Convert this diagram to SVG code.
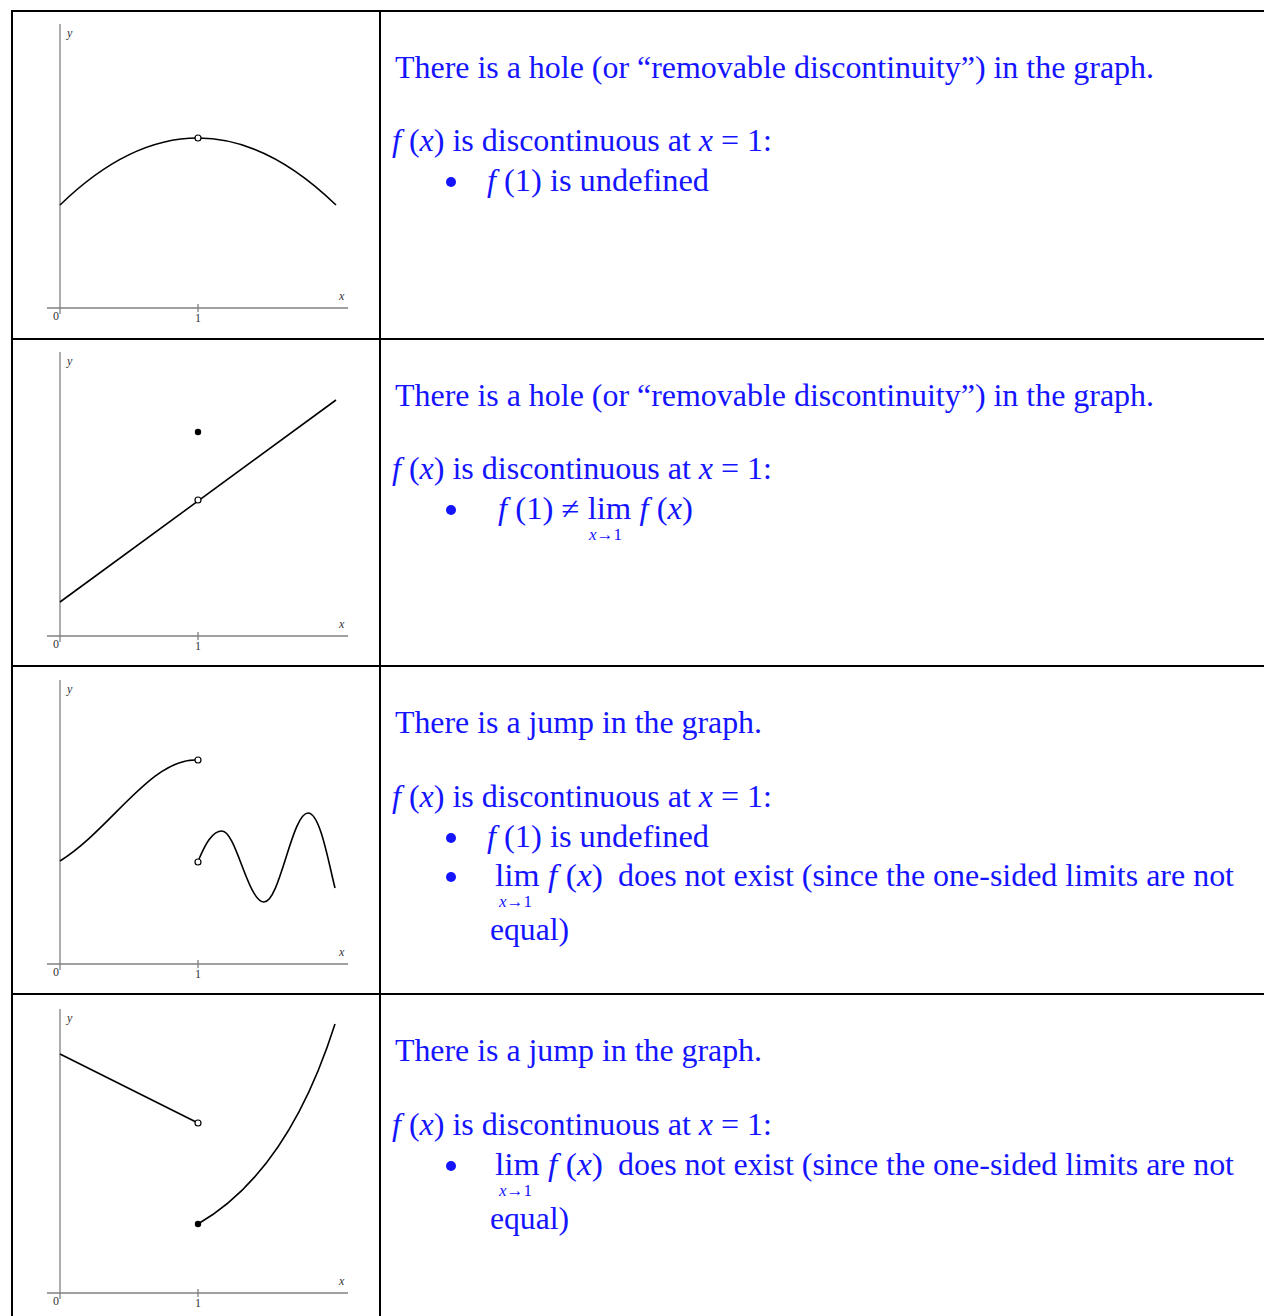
<svg xmlns="http://www.w3.org/2000/svg" width="1264" height="1316" viewBox="0 0 1264 1316">
<style>
.ax{stroke:#808080;stroke-width:1.3;fill:none}
.cv{stroke:#000;stroke-width:1.6;fill:none}
.lbl{font-family:"Liberation Serif",serif;font-size:12px;fill:#333}
.lbli{font-family:"Liberation Serif",serif;font-size:12px;font-style:italic;fill:#333}
.t{font-family:"Liberation Serif",serif;font-size:31px;fill:#1414ff}
.it{font-style:italic}
.sub{font-family:"Liberation Serif",serif;font-size:17px;fill:#1414ff}
.grid{stroke:#000;stroke-width:2;fill:none}
.open{fill:#fff;stroke:#000;stroke-width:1.2}
.dot{fill:#000}
</style>
<defs>
<g id="axes">
<line class="ax" x1="60" y1="24" x2="60" y2="314"/>
<line class="ax" x1="47" y1="308" x2="348" y2="308"/>
<line class="ax" x1="198" y1="304" x2="198" y2="312"/>
<text class="lbli" x="67" y="37">y</text>
<text class="lbli" x="339" y="300">x</text>
<text class="lbl" x="53" y="320">0</text>
<text class="lbl" x="195" y="322">1</text>
</g>
</defs>
<g id="table">
<line class="grid" x1="11" y1="11" x2="1264" y2="11"/>
<line class="grid" x1="11" y1="339" x2="1264" y2="339"/>
<line class="grid" x1="11" y1="666" x2="1264" y2="666"/>
<line class="grid" x1="11" y1="994" x2="1264" y2="994"/>
<line class="grid" x1="12" y1="10" x2="12" y2="1316"/>
<line class="grid" x1="380" y1="10" x2="380" y2="1316"/>
</g>
<g id="graph1">
<use href="#axes"/>
<path class="cv" d="M60,205 Q198,71 336,205"/>
<circle class="open" cx="198" cy="138" r="3"/>
</g>
<g id="graph2">
<use href="#axes" transform="translate(0,328)"/>
<path class="cv" d="M60,602 L336,400"/>
<circle class="open" cx="198" cy="500" r="3"/>
<circle class="dot" cx="198" cy="432" r="3.2"/>
</g>
<g id="graph3">
<use href="#axes" transform="translate(0,656)"/>
<path class="cv" d="M60,861 C110,830 150,760 195,760"/>
<path class="cv" d="M199,859 C205,845 212,831 222,831 C236,831 248,902 264,902 C280,902 292,813 308,813 C320,813 328,860 335,888"/>
<circle class="open" cx="198" cy="760" r="3"/>
<circle class="open" cx="198" cy="862" r="3"/>
</g>
<g id="graph4">
<use href="#axes" transform="translate(0,985)"/>
<path class="cv" d="M60,1054 L196,1122"/>
<path class="cv" d="M198,1224 Q288,1172 335,1024"/>
<circle class="open" cx="198" cy="1123" r="3"/>
<circle class="dot" cx="198" cy="1224" r="3.2"/>
</g>
<g id="text1">
<text class="t" x="395" y="78" textLength="759" lengthAdjust="spacingAndGlyphs">There is a hole (or “removable discontinuity”) in the graph.</text>
<text class="t" x="392" y="151" textLength="380" lengthAdjust="spacingAndGlyphs"><tspan class="it">f</tspan> (<tspan class="it">x</tspan>) is discontinuous at <tspan class="it">x</tspan> = 1:</text>
<circle fill="#1414ff" cx="451" cy="182" r="5"/>
<text class="t" x="487" y="191" textLength="222" lengthAdjust="spacingAndGlyphs"><tspan class="it">f</tspan> (1) is undefined</text>
</g>
<g id="text2">
<text class="t" x="395" y="406" textLength="759" lengthAdjust="spacingAndGlyphs">There is a hole (or “removable discontinuity”) in the graph.</text>
<text class="t" x="392" y="479" textLength="380" lengthAdjust="spacingAndGlyphs"><tspan class="it">f</tspan> (<tspan class="it">x</tspan>) is discontinuous at <tspan class="it">x</tspan> = 1:</text>
<circle fill="#1414ff" cx="451" cy="510" r="5"/>
<text class="t" x="498" y="519" textLength="195" lengthAdjust="spacingAndGlyphs"><tspan class="it">f</tspan> (1) ≠ lim <tspan class="it">f</tspan> (<tspan class="it">x</tspan>)</text>
<text class="sub" x="589" y="540"><tspan class="it">x</tspan>→1</text>
</g>
<g id="text3">
<text class="t" x="395" y="733" textLength="367" lengthAdjust="spacingAndGlyphs">There is a jump in the graph.</text>
<text class="t" x="392" y="807" textLength="380" lengthAdjust="spacingAndGlyphs"><tspan class="it">f</tspan> (<tspan class="it">x</tspan>) is discontinuous at <tspan class="it">x</tspan> = 1:</text>
<circle fill="#1414ff" cx="451" cy="838" r="5"/>
<text class="t" x="487" y="847" textLength="222" lengthAdjust="spacingAndGlyphs"><tspan class="it">f</tspan> (1) is undefined</text>
<circle fill="#1414ff" cx="451" cy="877" r="5"/>
<text class="t" x="495" y="886" textLength="108" lengthAdjust="spacingAndGlyphs">lim <tspan class="it">f</tspan> (<tspan class="it">x</tspan>)</text>
<text class="t" x="618" y="886" textLength="616" lengthAdjust="spacingAndGlyphs">does not exist (since the one-sided limits are not</text>
<text class="sub" x="499" y="907"><tspan class="it">x</tspan>→1</text>
<text class="t" x="490" y="940" textLength="79" lengthAdjust="spacingAndGlyphs">equal)</text>
</g>
<g id="text4">
<text class="t" x="395" y="1061" textLength="367" lengthAdjust="spacingAndGlyphs">There is a jump in the graph.</text>
<text class="t" x="392" y="1135" textLength="380" lengthAdjust="spacingAndGlyphs"><tspan class="it">f</tspan> (<tspan class="it">x</tspan>) is discontinuous at <tspan class="it">x</tspan> = 1:</text>
<circle fill="#1414ff" cx="451" cy="1166" r="5"/>
<text class="t" x="495" y="1175" textLength="108" lengthAdjust="spacingAndGlyphs">lim <tspan class="it">f</tspan> (<tspan class="it">x</tspan>)</text>
<text class="t" x="618" y="1175" textLength="616" lengthAdjust="spacingAndGlyphs">does not exist (since the one-sided limits are not</text>
<text class="sub" x="499" y="1196"><tspan class="it">x</tspan>→1</text>
<text class="t" x="490" y="1229" textLength="79" lengthAdjust="spacingAndGlyphs">equal)</text>
</g>
</svg>
